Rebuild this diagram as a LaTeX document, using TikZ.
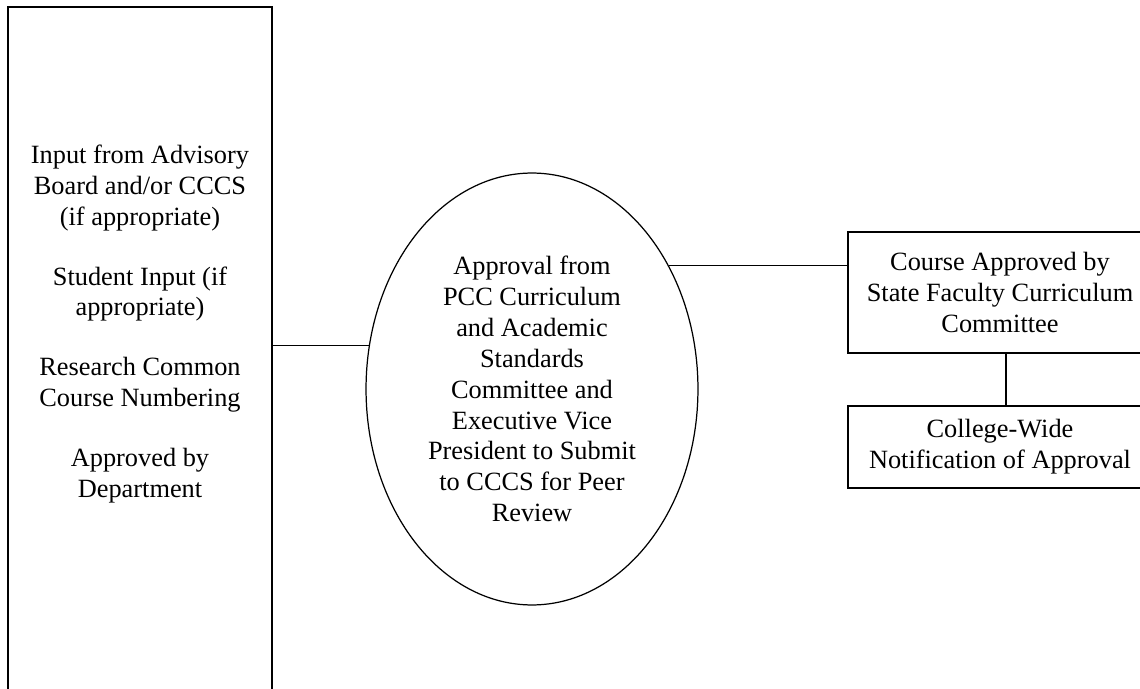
\documentclass[tikz,border=0pt]{standalone}
\usepackage{fontspec}
\setmainfont{Liberation Serif}
\usetikzlibrary{shapes.geometric}
\begin{document}
\begin{tikzpicture}[x=0.02cm, y=-0.02cm,
		font=\fontsize{15}{17.6}\selectfont,
		stagebox/.style={draw, line width=0.9pt, rectangle, inner sep=0pt, align=center},
		link/.style={draw, line width=0.8pt}]
	\useasboundingbox (0,0) rectangle (1140,689);
	% left column
	\node[stagebox, anchor=north, minimum width=5.28cm, minimum height=14cm] (inputs) at (140,6) {};
	\node[align=center] (inputtext) at (140,324) {Input from Advisory\\Board and/or CCCS\\(if appropriate)\\[16.5pt]
		Student Input (if\\appropriate)\\[16.5pt]
		Research Common\\Course Numbering\\[16.5pt]
		Approved by\\Department};
	% middle
	\node[draw, ellipse, line width=0.7pt, inner sep=0pt, minimum width=6.64cm, minimum height=8.64cm,
		align=center] (approval) at (532,389) {Approval from\\PCC Curriculum\\and Academic\\Standards\\Committee and\\Executive Vice\\President to Submit\\to CCCS for Peer\\Review};
	% right column
	\node[stagebox, minimum width=6.08cm, minimum height=2.42cm] (course) at (1000,292.5) {Course Approved by\\State Faculty Curriculum\\Committee};
	\node[stagebox, minimum width=6.08cm, minimum height=1.64cm] (notify) at (1000,447) {College-Wide\\Notification of Approval};
	% connectors
	\draw[link] (approval.165 -| inputs.east) -- (approval.165);
	\draw[link] (approval.42) -- (approval.42 -| course.west);
	\draw[link] ([xshift=0.12cm]course.south) -- ([xshift=0.12cm]notify.north);
\end{tikzpicture}
\end{document}
